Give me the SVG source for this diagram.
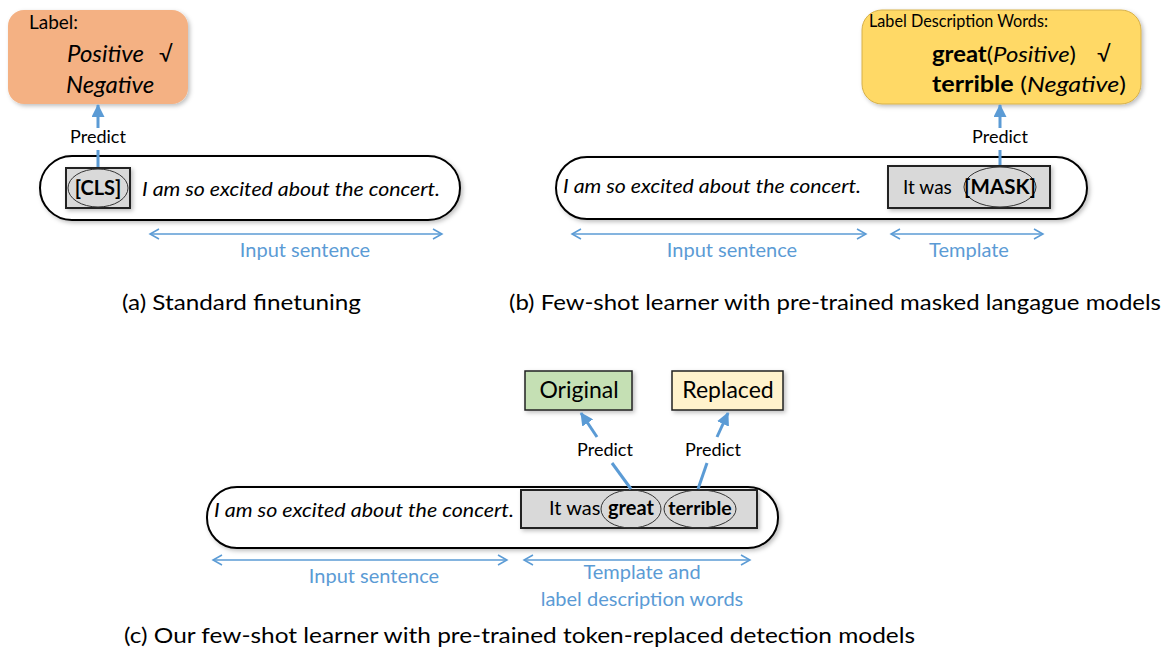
<svg xmlns="http://www.w3.org/2000/svg" width="1171" height="652" viewBox="0 0 1171 652">
<defs>
<filter id="sh" x="-10%" y="-10%" width="125%" height="130%">
<feDropShadow dx="2" dy="2" stdDeviation="2" flood-color="#000" flood-opacity="0.25"/>
</filter>
<marker id="ah" viewBox="0 0 13 13" refX="12" refY="6.5" markerWidth="13" markerHeight="13" markerUnits="userSpaceOnUse" orient="auto">
<path d="M0,0 L13,6.5 L0,13 z" fill="#5B9BD5"/>
</marker>
<marker id="oa" viewBox="0 0 12 12" refX="10" refY="6" markerWidth="12" markerHeight="12" markerUnits="userSpaceOnUse" orient="auto-start-reverse">
<path d="M1,1 L10,6 L1,11" fill="none" stroke="#5B9BD5" stroke-width="1.5"/>
</marker>
</defs>
<style>
text{font-family:Lato,"Open Sans","Liberation Sans",sans-serif;fill:#000}
.it{font-style:italic}
.b{font-weight:bold}
.blue{fill:#5B9BD5;font-size:20px}
.pill{fill:#fff;stroke:#000;stroke-width:2}
.gray{fill:#d9d9d9;stroke:#222;stroke-width:2}
.ell{fill:none;stroke:#333;stroke-width:1}
.pred{stroke:#5B9BD5;stroke-width:3;fill:none}
.span{stroke:#5B9BD5;stroke-width:1.5;fill:none}
.cap{font-size:21.5px}
.pl{font-size:18px}
.sent{font-size:19.5px;font-style:italic}
</style>

<!-- (a) -->
<g id="a-label">
<rect x="8" y="10" width="180" height="94" rx="16" fill="#F4B183" filter="url(#sh)"/>
<text x="29" y="29" font-size="19">Label:</text>
<text x="67" y="62" font-size="24" class="it">Positive</text>
<text x="159" y="62" font-size="22">√</text>
<text x="66" y="93" font-size="24" class="it">Negative</text>
</g>
<g id="a-input">
<rect x="40" y="156" width="420" height="64" rx="32" class="pill" filter="url(#sh)"/>
<rect x="66" y="168" width="64" height="40" class="gray" filter="url(#sh)"/>
<ellipse cx="98" cy="188" rx="30" ry="19" class="ell"/>
<text x="98" y="195" font-size="20" class="b" text-anchor="middle">[CLS]</text>
<text x="142" y="196" class="sent" textLength="298" lengthAdjust="spacingAndGlyphs">I am so excited about the concert.</text>
</g>
<g id="a-labels">
<text x="98" y="143" class="pl" text-anchor="middle">Predict</text>
<text x="305" y="257" class="blue" text-anchor="middle">Input sentence</text>
<text x="122" y="310" class="cap" textLength="239" lengthAdjust="spacingAndGlyphs">(a) Standard finetuning</text>
</g>

<!-- (b) -->
<g id="b-label">
<rect x="862" y="10" width="279" height="94" rx="20" fill="#FFD966" stroke="#d6b04a" stroke-width="1" filter="url(#sh)"/>
<text x="869" y="27" font-size="18" textLength="179" lengthAdjust="spacingAndGlyphs">Label Description Words:</text>
<text x="932" y="62" font-size="22" textLength="144" lengthAdjust="spacingAndGlyphs"><tspan class="b">great</tspan>(<tspan class="it">Positive</tspan>)</text>
<text x="1097" y="62" font-size="22">√</text>
<text x="932" y="92" font-size="22" textLength="194" lengthAdjust="spacingAndGlyphs"><tspan class="b">terrible</tspan> (<tspan class="it">Negative</tspan>)</text>
</g>
<g id="b-input">
<rect x="556" y="157" width="531" height="62" rx="31" class="pill" filter="url(#sh)"/>
<text x="563" y="193" class="sent" textLength="298" lengthAdjust="spacingAndGlyphs">I am so excited about the concert.</text>
<rect x="888" y="166" width="162" height="42" class="gray" filter="url(#sh)"/>
<text x="903" y="194" font-size="19">It was</text>
<ellipse cx="1000" cy="187" rx="36" ry="20" class="ell"/>
<text x="1000" y="194" font-size="20.5" class="b" text-anchor="middle">[MASK]</text>
</g>
<g id="b-labels">
<text x="1000" y="143" class="pl" text-anchor="middle">Predict</text>
<text x="732" y="257" class="blue" text-anchor="middle">Input sentence</text>
<text x="969" y="257" class="blue" text-anchor="middle">Template</text>
<text x="509" y="310" class="cap" textLength="652" lengthAdjust="spacingAndGlyphs">(b) Few-shot learner with pre-trained masked langague models</text>
</g>

<!-- (c) -->
<g id="c-original">
<rect x="525" y="371" width="107" height="39" fill="#C5E0B4" stroke="#222" stroke-width="1.5" filter="url(#sh)"/>
<text x="579" y="398" font-size="23" text-anchor="middle">Original</text>
</g>
<g id="c-replaced">
<rect x="672" y="371" width="111" height="39" fill="#FFF2CC" stroke="#222" stroke-width="1.5" filter="url(#sh)"/>
<text x="728" y="398" font-size="23" text-anchor="middle">Replaced</text>
</g>
<g id="c-input">
<rect x="207" y="487" width="571" height="61" rx="30" class="pill" filter="url(#sh)"/>
<text x="214" y="517" class="sent" textLength="300" lengthAdjust="spacingAndGlyphs">I am so excited about the concert.</text>
<rect x="521" y="490" width="236" height="38" class="gray" filter="url(#sh)"/>
<text x="549" y="515" font-size="20">It was</text>
<ellipse cx="631" cy="509" rx="30" ry="19" class="ell"/>
<text x="631" y="515" font-size="20" class="b" text-anchor="middle">great</text>
<ellipse cx="700" cy="509" rx="36" ry="19" class="ell"/>
<text x="700" y="515" font-size="19.5" class="b" text-anchor="middle">terrible</text>
</g>
<g id="c-labels">
<text x="605" y="456" class="pl" text-anchor="middle">Predict</text>
<text x="713" y="456" class="pl" text-anchor="middle">Predict</text>
<text x="374" y="583" class="blue" text-anchor="middle">Input sentence</text>
<text x="642" y="579" class="blue" text-anchor="middle">Template and</text>
<text x="642" y="606" class="blue" text-anchor="middle">label description words</text>
<text x="124" y="643" class="cap" textLength="791" lengthAdjust="spacingAndGlyphs">(c) Our few-shot learner with pre-trained token-replaced detection models</text>
</g>

<g id="connectors">
<line x1="98" y1="167" x2="98" y2="150" class="pred"/>
<line x1="98" y1="128" x2="98" y2="105" class="pred" marker-end="url(#ah)"/>
<line x1="1000" y1="165" x2="1000" y2="150" class="pred"/>
<line x1="1000" y1="128" x2="1000" y2="105" class="pred" marker-end="url(#ah)"/>
<line x1="150" y1="234" x2="442" y2="234" class="span" marker-start="url(#oa)" marker-end="url(#oa)"/>
<line x1="572" y1="234" x2="866" y2="234" class="span" marker-start="url(#oa)" marker-end="url(#oa)"/>
<line x1="891" y1="234" x2="1043" y2="234" class="span" marker-start="url(#oa)" marker-end="url(#oa)"/>
<line x1="213" y1="560" x2="507" y2="560" class="span" marker-start="url(#oa)" marker-end="url(#oa)"/>
<line x1="524" y1="560" x2="750" y2="560" class="span" marker-start="url(#oa)" marker-end="url(#oa)"/>
<line x1="612" y1="463" x2="631" y2="489" class="pred"/>
<line x1="597" y1="437" x2="581" y2="413" class="pred" marker-end="url(#ah)"/>
<line x1="707" y1="463" x2="698" y2="489" class="pred"/>
<line x1="717" y1="437" x2="728" y2="413" class="pred" marker-end="url(#ah)"/>
</g>
</svg>
